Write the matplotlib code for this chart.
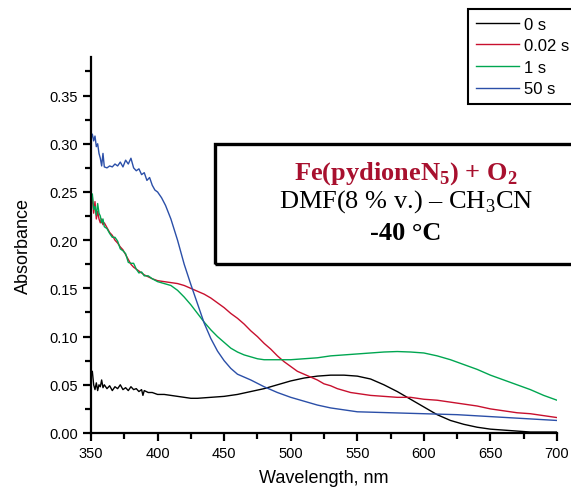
import matplotlib
matplotlib.use('Agg')
import matplotlib.pyplot as plt
from matplotlib.patches import Rectangle
from matplotlib.ticker import MultipleLocator

plt.rcParams['font.family'] = ['Liberation Sans', 'DejaVu Sans']
plt.rcParams['mathtext.fontset'] = 'custom'
plt.rcParams['mathtext.rm'] = 'Liberation Serif'
plt.rcParams['mathtext.bf'] = 'Liberation Serif:bold'

# 0 s
wl_0 = [350, 351, 352, 353, 354, 355, 356, 357, 358, 359, 360, 362, 364, 366, 368, 370,
        372, 374, 376, 378, 380, 382, 384, 386, 388, 389, 390, 393, 396, 400, 405, 410,
        415, 420, 425, 430, 440, 450, 460, 470, 480, 490, 500, 510, 520, 530, 540, 550,
        560, 570, 580, 590, 600, 610, 620, 630, 640, 650, 660, 670, 680, 690, 700]
a_0 = [0.060, 0.064, 0.050, 0.045, 0.052, 0.044, 0.050, 0.048, 0.055, 0.047, 0.050, 0.046,
       0.049, 0.044, 0.048, 0.046, 0.050, 0.045, 0.047, 0.044, 0.048, 0.045, 0.046, 0.043,
       0.045, 0.039, 0.044, 0.042, 0.042, 0.040, 0.040, 0.039, 0.038, 0.037, 0.036, 0.036,
       0.037, 0.038, 0.040, 0.043, 0.046, 0.050, 0.054, 0.057, 0.059, 0.060, 0.060, 0.059,
       0.056, 0.050, 0.043, 0.035, 0.027, 0.019, 0.013, 0.009, 0.006, 0.004, 0.003, 0.002,
       0.001, 0.001, 0.001]

# 0.02 s
wl_1 = [350, 351, 352, 353, 354, 355, 356, 357, 358, 359, 360, 362, 364, 366, 368, 370,
        372, 374, 376, 378, 380, 382, 384, 386, 388, 390, 393, 396, 400, 405, 410, 415,
        420, 425, 430, 435, 440, 445, 450, 455, 460, 465, 470, 475, 480, 485, 490, 495,
        500, 505, 510, 515, 520, 525, 530, 535, 540, 545, 550, 560, 570, 580, 590, 600,
        610, 620, 630, 640, 650, 660, 670, 680, 690, 700]
a_1 = [0.235, 0.245, 0.228, 0.240, 0.222, 0.230, 0.222, 0.218, 0.222, 0.216, 0.218, 0.213,
       0.208, 0.205, 0.200, 0.197, 0.193, 0.190, 0.185, 0.180, 0.175, 0.172, 0.170, 0.168,
       0.166, 0.164, 0.162, 0.160, 0.158, 0.157, 0.156, 0.155, 0.153, 0.150, 0.147, 0.144,
       0.140, 0.135, 0.130, 0.124, 0.119, 0.113, 0.106, 0.100, 0.093, 0.087, 0.080, 0.074,
       0.069, 0.064, 0.061, 0.058, 0.055, 0.051, 0.049, 0.046, 0.044, 0.042, 0.041, 0.039,
       0.038, 0.037, 0.037, 0.035, 0.034, 0.032, 0.030, 0.028, 0.025, 0.023, 0.021, 0.020,
       0.018, 0.016]

# 1 s
wl_2 = [350, 351, 352, 353, 354, 355, 356, 357, 358, 359, 360, 362, 364, 366, 368, 370,
        372, 374, 376, 378, 380, 382, 384, 386, 388, 390, 393, 396, 400, 405, 410, 415,
        420, 425, 430, 435, 440, 445, 450, 455, 460, 465, 470, 475, 480, 490, 500, 510,
        520, 530, 540, 550, 560, 570, 580, 590, 600, 610, 620, 630, 640, 650, 660, 670,
        680, 690, 700]
a_2 = [0.240, 0.248, 0.232, 0.235, 0.226, 0.238, 0.228, 0.225, 0.218, 0.222, 0.214, 0.212,
       0.207, 0.203, 0.203, 0.199, 0.191, 0.189, 0.186, 0.177, 0.176, 0.176, 0.170, 0.166,
       0.167, 0.163, 0.163, 0.160, 0.157, 0.155, 0.153, 0.148, 0.141, 0.133, 0.124, 0.115,
       0.107, 0.100, 0.094, 0.088, 0.084, 0.081, 0.079, 0.077, 0.076, 0.076, 0.076, 0.077,
       0.078, 0.080, 0.081, 0.082, 0.083, 0.084, 0.0845, 0.084, 0.083, 0.080, 0.076, 0.071,
       0.066, 0.060, 0.055, 0.050, 0.045, 0.039, 0.034]

# 50 s
wl_3 = [350, 351, 352, 353, 354, 355, 356, 357, 358, 359, 360, 362, 364, 366, 368, 370,
        372, 374, 376, 378, 380, 382, 384, 386, 388, 390, 392, 394, 396, 398, 400, 403,
        406, 410, 415, 420, 425, 430, 435, 440, 445, 450, 455, 460, 470, 480, 490, 500,
        510, 520, 530, 540, 550, 575, 600, 625, 650, 675, 700]
a_3 = [0.305, 0.310, 0.303, 0.308, 0.297, 0.300, 0.290, 0.285, 0.277, 0.290, 0.276, 0.275,
       0.277, 0.276, 0.279, 0.277, 0.281, 0.276, 0.283, 0.279, 0.285, 0.275, 0.272, 0.274,
       0.268, 0.270, 0.262, 0.265, 0.257, 0.252, 0.250, 0.244, 0.236, 0.222, 0.200, 0.175,
       0.154, 0.134, 0.114, 0.098, 0.085, 0.075, 0.067, 0.061, 0.055, 0.048, 0.042, 0.037,
       0.033, 0.029, 0.026, 0.024, 0.022, 0.021, 0.020, 0.019, 0.017, 0.015, 0.013]

labels = ['0 s', '0.02 s', '1 s', '50 s']
colors = ['#000000', '#c8102e', '#00a651', '#2b4fa8']

fig = plt.figure(figsize=(5.71, 4.89), dpi=100)
ax = fig.add_axes([91/571, 55/489, 466/571, 376/489])

for wl, a, lab, c in zip([wl_0, wl_1, wl_2, wl_3], [a_0, a_1, a_2, a_3], labels, colors):
    ax.plot(wl, a, color=c, lw=1.0, label=lab)

ax.set_xlim(350, 700)
ax.set_ylim(0, 0.39)
ax.xaxis.set_major_locator(MultipleLocator(50))
ax.xaxis.set_minor_locator(MultipleLocator(25))
ax.yaxis.set_major_locator(MultipleLocator(0.05))
ax.yaxis.set_minor_locator(MultipleLocator(0.025))
ax.yaxis.set_major_formatter(plt.FuncFormatter(lambda v, p: '%.2f' % v))
ax.spines['top'].set_visible(False)
ax.spines['right'].set_visible(False)
ax.spines['left'].set_linewidth(1.6)
ax.spines['bottom'].set_linewidth(1.6)
ax.tick_params(which='major', direction='out', length=6, width=1.6, labelsize=10.5)
ax.tick_params(which='minor', direction='out', length=4, width=1.6)
ax.set_xlabel('Wavelength, nm', fontsize=13, labelpad=6)
ax.set_ylabel('Absorbance', fontsize=13, labelpad=12)

leg = ax.legend(loc='upper left', bbox_to_anchor=(468/571, 1 - 10/489),
                bbox_transform=fig.transFigure, fontsize=12, frameon=True,
                fancybox=False, edgecolor='black', handlelength=2.6,
                handletextpad=0.3, labelspacing=0.4, borderpad=0.45,
                borderaxespad=0, framealpha=1)
leg.get_frame().set_linewidth(1.5)

box = Rectangle((215/571, 1 - 265/489), 0.7, 120/489, transform=fig.transFigure,
                fill=False, edgecolor='black', lw=2.4, clip_on=False)
fig.patches.append(box)
fig.text(406/571, 1 - 174/489, r'Fe(pydioneN$_\mathbf{5}$) + O$_\mathbf{2}$',
         family='Liberation Serif', fontweight='bold', fontsize=19,
         color='#a8102e', ha='center', va='center')
fig.text(406/571, 1 - 202/489, r'DMF(8 % v.) – CH$_\mathrm{3}$CN',
         family='Liberation Serif', fontsize=19, ha='center', va='center')
fig.text(406/571, 1 - 234/489, '-40 °C',
         family='Liberation Serif', fontweight='bold', fontsize=19,
         ha='center', va='center')

fig.savefig('out.png', dpi=100)
